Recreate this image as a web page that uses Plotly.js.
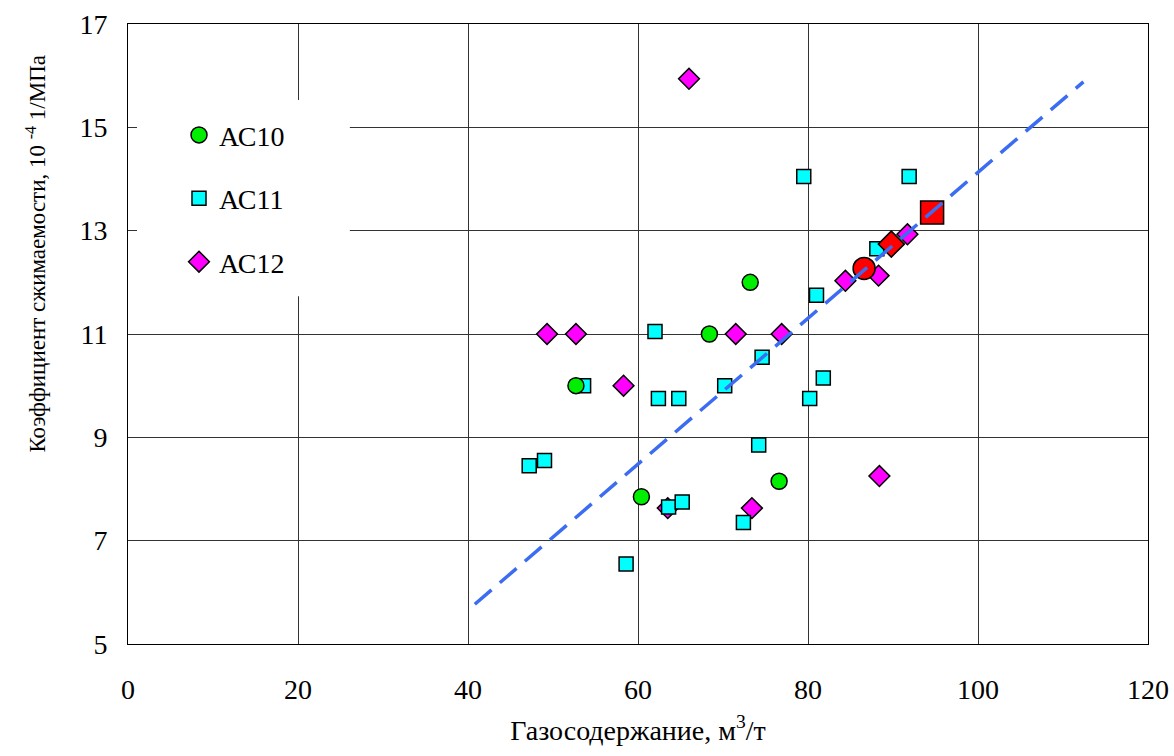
<!DOCTYPE html>
<html>
<head>
<meta charset="utf-8">
<script src="https://cdn.plot.ly/plotly-3.0.1.min.js"></script>
<style>html,body{margin:0;padding:0;background:#fff;}#chart{width:1174px;height:756px;}</style>
</head>
<body>
<div id="chart"></div>
<script>
// ---- data ----
const xTicks = [0, 20, 40, 60, 80, 100, 120];
const yTicks = [5, 7, 9, 11, 13, 15, 17];

const ac10Name = "АС10";
const ac10X = [52.7, 60.4, 68.4, 73.2, 76.6];
const ac10Y = [10.0, 7.85, 11.0, 12.0, 8.15];

const ac11Name = "АС11";
const ac11X = [47.2, 49.0, 53.6, 58.6, 62.0, 62.4, 63.6, 64.8, 65.2, 70.2, 72.4, 74.2, 74.6, 79.5, 80.2, 81.0, 81.8, 88.1, 91.9];
const ac11Y = [8.45, 8.55, 10.0, 6.55, 11.05, 9.75, 7.65, 9.75, 7.75, 10.0, 7.35, 8.85, 10.55, 14.05, 9.75, 11.75, 10.15, 12.65, 14.05];

const ac12Name = "АС12";
const ac12X = [49.3, 52.7, 58.3, 63.5, 66.0, 71.5, 73.4, 76.9, 84.4, 88.3, 91.7, 88.4];
const ac12Y = [11.0, 11.0, 10.0, 7.63, 15.94, 11.0, 7.63, 11.0, 12.03, 12.13, 12.93, 8.25];

// highlighted (red) points
const redCircleX = [86.6], redCircleY = [12.27];
const redDiamondX = [89.8], redDiamondY = [12.74];
const redSquareX = [94.6], redSquareY = [13.35];

// trend line end points
const trendX = [40.8, 112.4];
const trendY = [5.77, 15.88];

const xTitle = "Газосодержание, м<sup>3</sup>/т";
const yTitle = "Коэффициент сжимаемости, 10 <sup>-4</sup> 1/МПа";

// ---- chart ----
const FONT = "Liberation Serif";
const edge = {color: "#000", width: 1.5};

const traces = [
  {x: ac12X, y: ac12Y, name: ac12Name, mode: "markers", type: "scatter", legendgroup: "c", legendrank: 3,
   marker: {symbol: "diamond", size: 16, color: "#ff00ff", line: edge}},
  {x: ac11X, y: ac11Y, name: ac11Name, mode: "markers", type: "scatter", legendgroup: "b", legendrank: 2,
   marker: {symbol: "square", size: 14, color: "#00ffff", line: edge}},
  {x: ac10X, y: ac10Y, name: ac10Name, mode: "markers", type: "scatter", legendgroup: "a", legendrank: 1,
   marker: {symbol: "circle", size: 16, color: "#00ee00", line: edge}},
  {x: redCircleX, y: redCircleY, mode: "markers", type: "scatter", showlegend: false,
   marker: {symbol: "circle", size: 22, color: "#ff0000", line: edge}},
  {x: redDiamondX, y: redDiamondY, mode: "markers", type: "scatter", showlegend: false,
   marker: {symbol: "diamond", size: 20, color: "#ff0000", line: edge}},
  {x: redSquareX, y: redSquareY, mode: "markers", type: "scatter", showlegend: false,
   marker: {symbol: "square", size: 23, color: "#ff0000", line: edge}},
  {x: trendX, y: trendY, mode: "lines", type: "scatter", showlegend: false,
   line: {color: "#3b6cf2", width: 3.5, dash: "22px,11px"}}
];

const layout = {
  width: 1174, height: 756,
  margin: {l: 128, r: 26, t: 24, b: 112},
  paper_bgcolor: "#fff", plot_bgcolor: "#fff",
  font: {family: FONT, size: 28, color: "#000"},
  showlegend: true,
  legend: {x: 0.05, y: 0.861, xanchor: "left", yanchor: "top",
           bgcolor: "#fff", borderwidth: 0, traceorder: "grouped", tracegroupgap: 24,
           font: {family: FONT, size: 28, color: "#000"}},
  xaxis: {range: [0, 120], tickvals: xTicks, ticktext: xTicks.map(String),
          showgrid: true, gridcolor: "#333", gridwidth: 1, zeroline: false,
          showline: true, linecolor: "#000", linewidth: 1, mirror: true,
          ticks: "", ticklabelstandoff: 20, tickfont: {family: FONT, size: 28},
          title: {text: xTitle, font: {family: FONT, size: 28}, standoff: 16}},
  yaxis: {range: [5, 17], tickvals: yTicks, ticktext: yTicks.map(String),
          showgrid: true, gridcolor: "#333", gridwidth: 1, zeroline: false,
          showline: true, linecolor: "#000", linewidth: 1, mirror: true,
          ticks: "", ticklabelstandoff: 14, tickfont: {family: FONT, size: 28}},
  shapes: [
    {type: "rect", xref: "x", yref: "y", x0: 1.06, x1: 26.1, y0: 11.73, y1: 15.53,
     fillcolor: "#fff", line: {width: 0}, layer: "between"}
  ],
  annotations: [
    {text: yTitle, xref: "paper", yref: "paper", x: -0.09, y: 0.63, xanchor: "center", yanchor: "middle",
     textangle: -90, showarrow: false, font: {family: FONT, size: 23, color: "#000"}}
  ]
};

Plotly.newPlot("chart", traces, layout, {displayModeBar: false, staticPlot: true});
</script>
</body>
</html>
